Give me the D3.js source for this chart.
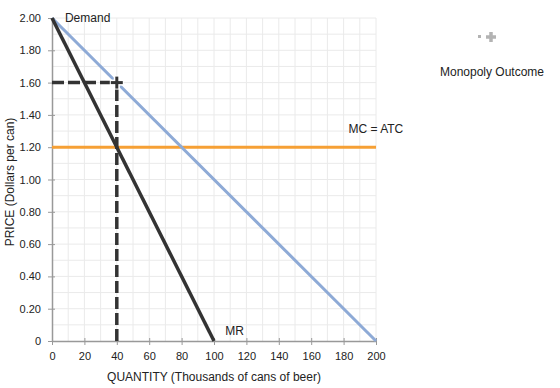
<!DOCTYPE html>
<html>
<head>
<meta charset="utf-8">
<script src="https://cdn.jsdelivr.net/npm/d3@7"></script>
<style>
  body { margin: 0; background: #fff; font-family: "Liberation Sans", Arial, sans-serif; }
</style>
</head>
<body>
<script>
// curves (quantity, price)
let demand = [{q:0, p:2.0}, {q:200, p:0}]
let mr = [{q:0, p:2.0}, {q:100, p:0}]
let mc = [{q:0, p:1.2}, {q:200, p:1.2}]
let outcome = {q:40, p:1.6}

let xTicks = [0,20,40,60,80,100,120,140,160,180,200]
let yTicks = [0,0.2,0.4,0.6,0.8,1.0,1.2,1.4,1.6,1.8,2.0]
let yTickLabels = ['0','0.20','0.40','0.60','0.80','1.00','1.20','1.40','1.60','1.80','2.00']

SVG_WIDTH = 560
SVG_HEIGHT = 388
DEMAND_COLOR = '#8eaad6'
MR_COLOR = '#333333'
MC_COLOR = '#f6a035'
GRID_COLOR = '#eaeaea'

let x = d3.scaleLinear().domain([0, 200]).range([52, 376])
let y = d3.scaleLinear().domain([0, 2]).range([341, 18])

let svg = d3.select('body').append('svg')
            .attr('width', SVG_WIDTH)
            .attr('height', SVG_HEIGHT)
            .style('font-family', '"Liberation Sans", Arial, sans-serif')

// grid
svg.append('g').selectAll('line')
   .data(d3.range(10, 201, 10))
   .join('line')
   .attr('x1', d => x(d)).attr('x2', d => x(d))
   .attr('y1', y(0)).attr('y2', y(2))
   .attr('stroke', GRID_COLOR).attr('stroke-width', 1)

svg.append('g').selectAll('line')
   .data(d3.range(1, 21).map(d => d / 10))
   .join('line')
   .attr('x1', x(0)).attr('x2', x(200))
   .attr('y1', d => y(d)).attr('y2', d => y(d))
   .attr('stroke', GRID_COLOR).attr('stroke-width', 1)

// axes
let xAxis = svg.append('g')
   .attr('transform', `translate(0,${y(0)})`)
   .call(d3.axisBottom(x).tickValues(xTicks).tickSize(5).tickSizeOuter(0).tickPadding(6))
let yAxis = svg.append('g')
   .attr('transform', `translate(${x(0)},0)`)
   .call(d3.axisLeft(y).tickValues(yTicks).tickFormat((d,i) => yTickLabels[i]).tickSize(5).tickSizeOuter(0).tickPadding(6))

;[xAxis, yAxis].forEach(a => {
  a.select('.domain').attr('stroke', '#999').attr('stroke-width', 1.5)
  a.selectAll('.tick line').attr('stroke', '#999')
  a.selectAll('.tick text').attr('fill', '#222').style('font-size', '11px')
    .style('font-family', '"Liberation Sans", Arial, sans-serif')
})
xAxis.selectAll('.tick line').attr('y1', -3).attr('y2', 4)
yAxis.selectAll('.tick line').attr('x1', 3).attr('x2', -4)

// axis titles
svg.append('text')
   .attr('x', 214).attr('y', 381)
   .attr('text-anchor', 'middle')
   .style('font-size', '12px').attr('fill', '#222')
   .text('QUANTITY (Thousands of cans of beer)')

svg.append('text')
   .attr('transform', 'translate(14,182) rotate(-90)')
   .attr('text-anchor', 'middle')
   .style('font-size', '12px').attr('fill', '#222')
   .text('PRICE (Dollars per can)')

let line = d3.line().x(d => x(d.q)).y(d => y(d.p))

svg.append('path').datum(mc).attr('d', line)
   .attr('stroke', MC_COLOR).attr('stroke-width', 3).attr('fill', 'none')
svg.append('path').datum(demand).attr('d', line)
   .attr('stroke', DEMAND_COLOR).attr('stroke-width', 3).attr('fill', 'none')
svg.append('path').datum(mr).attr('d', line)
   .attr('stroke', MR_COLOR).attr('stroke-width', 3.5).attr('fill', 'none')

// dashed drop lines for monopoly outcome
svg.append('path')
   .datum([{q:0, p:outcome.p}, {q:outcome.q, p:outcome.p}])
   .attr('d', line)
   .attr('stroke', MR_COLOR).attr('stroke-width', 3.5).attr('fill', 'none')
   .attr('stroke-dasharray', '12,4')
svg.append('path')
   .datum([{q:outcome.q, p:0}, {q:outcome.q, p:outcome.p}])
   .attr('d', line)
   .attr('stroke', MR_COLOR).attr('stroke-width', 3.5).attr('fill', 'none')
   .attr('stroke-dasharray', '12,4')

// plus marker
let plus = (g, cx, cy, s, w, col) => {
  g.append('line').attr('x1', cx - s).attr('x2', cx + s).attr('y1', cy).attr('y2', cy)
   .attr('stroke', col).attr('stroke-width', w)
  g.append('line').attr('x1', cx).attr('x2', cx).attr('y1', cy - s).attr('y2', cy + s)
   .attr('stroke', col).attr('stroke-width', w)
}
plus(svg, x(outcome.q), y(outcome.p), 7, 6, '#fff')
plus(svg, x(outcome.q), y(outcome.p), 6, 3, MR_COLOR)

// curve labels
svg.append('text').attr('x', x(8)).attr('y', y(1.978)).style('font-size', '12px').attr('fill', '#222').text('Demand')
svg.append('text').attr('x', x(183)).attr('y', y(1.29)).style('font-size', '12px').attr('fill', '#222').text('MC = ATC')
svg.append('text').attr('x', x(107)).attr('y', y(0.04)).style('font-size', '12px').attr('fill', '#222').text('MR')

// legend
let leg = svg.append('g')
plus(leg, 491, 37, 5, 3.5, '#b3b3b3')
leg.append('rect').attr('x', 478).attr('y', 35).attr('width', 3).attr('height', 3).attr('fill', '#b3b3b3')
leg.append('text').attr('x', 492).attr('y', 76).attr('text-anchor', 'middle')
   .style('font-size', '12px').attr('fill', '#222').text('Monopoly Outcome')
</script>
</body>
</html>
